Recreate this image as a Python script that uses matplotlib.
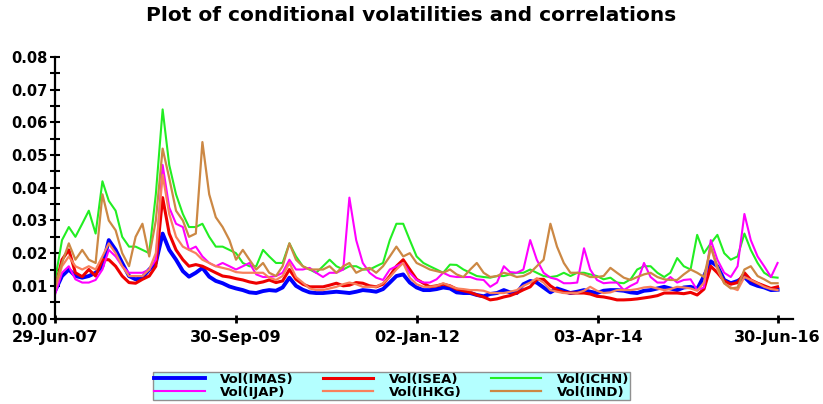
import numpy as np
import pandas as pd
import matplotlib
matplotlib.use('Agg')
import matplotlib.pyplot as plt
from matplotlib.ticker import MultipleLocator

# monthly observations, end of month Jun-2007 .. Jun-2016
dates = pd.date_range('2007-06-30', periods=109, freq='ME')

tick_dates = ['2007-06-29', '2009-09-30', '2012-01-02', '2014-04-03', '2016-06-30']
tick_labels = ['29-Jun-07', '30-Sep-09', '02-Jan-12', '03-Apr-14', '30-Jun-16']

vol_imas = [
    0.0085, 0.013, 0.015, 0.013, 0.0125, 0.013, 0.014, 0.016, 0.024, 0.021,
    0.017, 0.013, 0.012, 0.0125, 0.015, 0.017, 0.026, 0.021, 0.018, 0.0145,
    0.0128, 0.014, 0.0155, 0.0128, 0.0115, 0.0108, 0.0098, 0.0092, 0.0087, 0.0080,
    0.0078, 0.0084, 0.0087, 0.0085, 0.0095, 0.0125, 0.0100, 0.0088, 0.0080, 0.0078,
    0.0078, 0.0080, 0.0082, 0.0080, 0.0078, 0.0082, 0.0087, 0.0085, 0.0082, 0.0090,
    0.0110, 0.0130, 0.0135, 0.0110, 0.0095, 0.0087, 0.0087, 0.0090, 0.0095, 0.0092,
    0.0080, 0.0078, 0.0078, 0.0072, 0.0068, 0.0075, 0.0078, 0.0087, 0.0080, 0.0078,
    0.0105, 0.0115, 0.0110, 0.0095, 0.0080, 0.0092, 0.0085, 0.0078, 0.0082, 0.0087,
    0.0082, 0.0078, 0.0085, 0.0087, 0.0087, 0.0085, 0.0080, 0.0078, 0.0085, 0.0087,
    0.0092, 0.0097, 0.0092, 0.0087, 0.0095, 0.0097, 0.0090, 0.0130, 0.0175, 0.0160,
    0.0118, 0.0108, 0.0115, 0.0127, 0.0108, 0.0100, 0.0095, 0.0087, 0.0088]

vol_isea = [
    0.0095, 0.018, 0.021, 0.014, 0.0128, 0.015, 0.013, 0.018, 0.018, 0.016,
    0.0130, 0.0110, 0.0108, 0.0120, 0.0130, 0.016, 0.037, 0.026, 0.021, 0.018,
    0.016, 0.0165, 0.016, 0.015, 0.014, 0.0130, 0.0127, 0.0122, 0.0118, 0.0112,
    0.0108, 0.0112, 0.0118, 0.0110, 0.0115, 0.0150, 0.0120, 0.0105, 0.0097, 0.0097,
    0.0097, 0.0102, 0.0108, 0.0100, 0.0102, 0.0110, 0.0108, 0.0100, 0.0097, 0.0105,
    0.0130, 0.0160, 0.0180, 0.0150, 0.0120, 0.0108, 0.0097, 0.0100, 0.0105, 0.0100,
    0.0090, 0.0085, 0.0080, 0.0072, 0.0066, 0.0057, 0.0060, 0.0066, 0.0070, 0.0078,
    0.0088, 0.0097, 0.0120, 0.0120, 0.0100, 0.0087, 0.0080, 0.0078, 0.0078, 0.0078,
    0.0075, 0.0068, 0.0066, 0.0062, 0.0057, 0.0057, 0.0058, 0.0060, 0.0063, 0.0066,
    0.0070, 0.0078, 0.0078, 0.0078, 0.0076, 0.0080, 0.0072, 0.0090, 0.0160, 0.0140,
    0.0115, 0.0105, 0.0110, 0.0140, 0.0118, 0.0108, 0.0100, 0.0092, 0.0097]

vol_ichn = [
    0.012, 0.024, 0.028, 0.025, 0.029, 0.033, 0.026, 0.042, 0.036, 0.033,
    0.025, 0.022, 0.022, 0.021, 0.020, 0.038, 0.064, 0.047, 0.038, 0.032,
    0.028, 0.028, 0.029, 0.025, 0.022, 0.022, 0.021, 0.020, 0.017, 0.016,
    0.016, 0.021, 0.019, 0.017, 0.017, 0.023, 0.019, 0.016, 0.015, 0.014,
    0.016, 0.018, 0.016, 0.015, 0.016, 0.016, 0.015, 0.015, 0.016, 0.017,
    0.024, 0.029, 0.029, 0.024, 0.019, 0.017, 0.016, 0.015, 0.014, 0.0165,
    0.0164, 0.015, 0.014, 0.013, 0.0127, 0.0125, 0.013, 0.013, 0.0135, 0.014,
    0.014, 0.015, 0.014, 0.013, 0.0127, 0.013, 0.014, 0.013, 0.014, 0.014,
    0.0135, 0.013, 0.012, 0.0125, 0.011, 0.0108, 0.012, 0.015, 0.016, 0.016,
    0.014, 0.0127, 0.014, 0.0185, 0.016, 0.015, 0.0256, 0.020, 0.023, 0.0256,
    0.020, 0.018, 0.019, 0.026, 0.021, 0.017, 0.014, 0.0127, 0.0125]

vol_ijap = [
    0.0075, 0.014, 0.016, 0.012, 0.011, 0.011, 0.0118, 0.015, 0.021, 0.019,
    0.016, 0.014, 0.014, 0.014, 0.015, 0.018, 0.047, 0.034, 0.029, 0.028,
    0.021, 0.022, 0.019, 0.017, 0.016, 0.017, 0.016, 0.015, 0.016, 0.017,
    0.0135, 0.0127, 0.0127, 0.013, 0.014, 0.018, 0.015, 0.015, 0.0155, 0.014,
    0.0127, 0.014, 0.014, 0.015, 0.037, 0.024, 0.017, 0.014, 0.0125, 0.0118,
    0.015, 0.016, 0.017, 0.014, 0.0118, 0.011, 0.011, 0.012, 0.014, 0.013,
    0.0127, 0.0127, 0.0127, 0.012, 0.0118, 0.0097, 0.011, 0.016, 0.0142, 0.014,
    0.015, 0.024, 0.018, 0.014, 0.0125, 0.012, 0.0108, 0.0108, 0.011, 0.0215,
    0.015, 0.0118, 0.0108, 0.011, 0.011, 0.0087, 0.010, 0.011, 0.017, 0.0127,
    0.011, 0.011, 0.0127, 0.011, 0.0118, 0.012, 0.0087, 0.0095, 0.024, 0.018,
    0.014, 0.0127, 0.016, 0.032, 0.024, 0.019, 0.016, 0.0127, 0.017]

vol_ihkg = [
    0.009, 0.016, 0.019, 0.016, 0.015, 0.016, 0.015, 0.019, 0.023, 0.020,
    0.016, 0.013, 0.013, 0.013, 0.015, 0.020, 0.044, 0.032, 0.025, 0.022,
    0.021, 0.020, 0.018, 0.017, 0.016, 0.0155, 0.015, 0.0142, 0.014, 0.014,
    0.014, 0.014, 0.0125, 0.0118, 0.013, 0.017, 0.0127, 0.011, 0.0092, 0.0087,
    0.0087, 0.0092, 0.0097, 0.0105, 0.011, 0.0105, 0.0097, 0.0097, 0.0097, 0.0108,
    0.0127, 0.015, 0.017, 0.0125, 0.0105, 0.0097, 0.0097, 0.0100, 0.0108, 0.0100,
    0.0092, 0.0090, 0.0087, 0.0087, 0.0085, 0.0078, 0.0078, 0.0078, 0.0082, 0.0087,
    0.0100, 0.0110, 0.0123, 0.0110, 0.0087, 0.0082, 0.0078, 0.0078, 0.0078, 0.0085,
    0.0097, 0.0085, 0.0078, 0.0080, 0.0087, 0.0087, 0.0087, 0.0090, 0.0095, 0.0097,
    0.0092, 0.0087, 0.0090, 0.0097, 0.0095, 0.0092, 0.0085, 0.0110, 0.0220, 0.0150,
    0.0108, 0.0095, 0.0087, 0.0127, 0.0118, 0.0108, 0.0097, 0.0090, 0.0087]

vol_iind = [
    0.010, 0.017, 0.023, 0.018, 0.021, 0.018, 0.017, 0.038, 0.030, 0.027,
    0.020, 0.016, 0.025, 0.029, 0.019, 0.030, 0.052, 0.043, 0.033, 0.030,
    0.025, 0.026, 0.054, 0.038, 0.031, 0.028, 0.024, 0.018, 0.021, 0.018,
    0.015, 0.017, 0.014, 0.013, 0.016, 0.023, 0.018, 0.016, 0.015, 0.015,
    0.015, 0.016, 0.014, 0.016, 0.017, 0.014, 0.015, 0.0155, 0.014, 0.016,
    0.019, 0.022, 0.019, 0.020, 0.017, 0.016, 0.015, 0.0145, 0.014, 0.015,
    0.0135, 0.0127, 0.015, 0.017, 0.014, 0.0127, 0.013, 0.014, 0.0135, 0.0127,
    0.013, 0.014, 0.016, 0.018, 0.029, 0.022, 0.017, 0.014, 0.014, 0.0135,
    0.0127, 0.0127, 0.013, 0.0155, 0.014, 0.0125, 0.0118, 0.0127, 0.0135, 0.014,
    0.0127, 0.012, 0.0118, 0.0118, 0.0135, 0.015, 0.014, 0.0127, 0.022, 0.016,
    0.0108, 0.0092, 0.0095, 0.015, 0.016, 0.013, 0.012, 0.0108, 0.0108]

fig = plt.figure(figsize=(8.23, 4.04), dpi=100)
ax = fig.add_axes([0.0668, 0.2116, 0.8967, 0.647])

h_imas, = ax.plot(dates, vol_imas, color='#0000ff', lw=2.8, label='Vol(IMAS)')
h_isea, = ax.plot(dates, vol_isea, color='#ee0000', lw=2.2, label='Vol(ISEA)')
h_ichn, = ax.plot(dates, vol_ichn, color='#22ee22', lw=1.5, label='Vol(ICHN)')
h_ijap, = ax.plot(dates, vol_ijap, color='#ff00ff', lw=1.5, label='Vol(IJAP)')
h_ihkg, = ax.plot(dates, vol_ihkg, color='#f8805c', lw=1.6, label='Vol(IHKG)')
h_iind, = ax.plot(dates, vol_iind, color='#cc8844', lw=1.6, label='Vol(IIND)')

ax.set_ylim(0, 0.08)
ax.set_xlim(pd.Timestamp('2007-06-29'), pd.Timestamp('2016-09-08'))

for s in ['top', 'right']:
    ax.spines[s].set_visible(False)
for s in ['left', 'bottom']:
    ax.spines[s].set_linewidth(1.6)

ax.set_yticks(np.arange(0, 0.081, 0.01))
ax.set_yticklabels([f'{v:.2f}' for v in np.arange(0, 0.081, 0.01)])
ax.yaxis.set_minor_locator(MultipleLocator(0.005))
ax.set_xticks(pd.to_datetime(tick_dates))
ax.set_xticklabels(tick_labels)

ax.tick_params(axis='y', which='both', direction='inout', length=7, width=1.5,
               labelsize=10.5, pad=2)
ax.tick_params(axis='x', direction='inout', length=6, width=2, labelsize=11.5, pad=5)
for lab in ax.get_xticklabels() + ax.get_yticklabels():
    lab.set_fontweight('bold')

fig.text(0.5, 0.962, 'Plot of conditional volatilities and correlations',
         ha='center', va='center', fontsize=14.5, fontweight='bold')

leg = fig.legend(handles=[h_imas, h_ijap, h_isea, h_ihkg, h_ichn, h_iind],
                 ncol=3, loc='center', bbox_to_anchor=(0.476, 0.045),
                 frameon=True, facecolor='#b4ffff', edgecolor='#909090',
                 fancybox=False, framealpha=1, prop={'weight': 'bold', 'size': 9.5},
                 handlelength=3.8, handletextpad=1.2, columnspacing=2.2,
                 labelspacing=0.0, borderpad=0.1, borderaxespad=0)
leg.get_frame().set_linewidth(1)

fig.savefig('out.png', dpi=100)
